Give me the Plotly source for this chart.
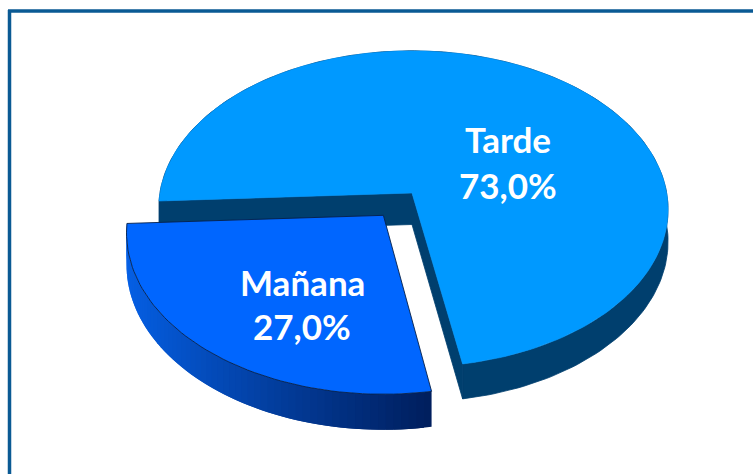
import numpy as np
import plotly.graph_objects as go

categories = ["Tarde", "Mañana"]
values = [73.0, 27.0]
top_colors = ["#0099FF", "#0066FF"]
start_angle = -90.0          # first slice, degrees clockwise from the back
explode_dir_amount = 0.18

# projection of the unit pie disc on to the page
AX, AY = 412.0, 193.0
A, B, D, E, P = 253.0, 156.2, -14.0, -8.0, 0.10
DEPTH = 31.5


def project(X, Y):
    w = 1 + P * Y
    return AX + (A * X + D * Y) / w, AY + (E * X - B * Y) / w, 1 / w


def rim(t0, t1, n=120):
    t = np.radians(np.linspace(t0, t1, n))
    return np.sin(t), np.cos(t)


def hex_mix(c0, c1, f):
    a = np.array([int(c0[i:i + 2], 16) for i in (1, 3, 5)])
    b = np.array([int(c1[i:i + 2], 16) for i in (1, 3, 5)])
    r = (a + (b - a) * f).round().astype(int)
    return f"rgb({r[0]},{r[1]},{r[2]})"


def poly(fig, x, y, fill, line=None, lw=0.8):
    fig.add_trace(go.Scatter(
        x=list(x), y=list(y), mode="lines", fill="toself", fillcolor=fill,
        line=dict(color=line or fill, width=lw), hoverinfo="skip", showlegend=False))


fig = go.Figure()

# angular spans from the values
total = sum(values)
sweep = [v / total * 360 for v in values]
t0 = [start_angle, start_angle + sweep[0]]
t1 = [start_angle + sweep[0], start_angle + sweep[0] + sweep[1]]

# ---- Tarde (in place)
X, Y = rim(t0[0], t1[0], 200)
sx, sy, sc = project(X, Y)
ax, ay, ac = project(0.0, 0.0)
wall = "#003F6E"
poly(fig, [*sx, *sx[::-1]], [*sy, *(sy + DEPTH * sc)[::-1]], wall)
for j in (0, -1):
    poly(fig, [ax, sx[j], sx[j], ax],
         [ay, sy[j], sy[j] + DEPTH * sc[j], ay + DEPTH * ac], wall)
poly(fig, [ax, *sx, ax], [ay, *sy, ay], top_colors[0], lw=0.6)

# ---- Mañana (pulled out along its mid angle)
mid = np.radians((t0[1] + t1[1]) / 2)
ox, oy = explode_dir_amount * np.sin(mid), explode_dir_amount * np.cos(mid)
X, Y = rim(t0[1], t1[1], 64)
sx, sy, sc = project(X + ox, Y + oy)
ax, ay, ac = project(ox, oy)
xmin, xmax = sx.min(), sx.max()
for i in range(len(X) - 1):
    k = min(i + 2, len(X) - 1)
    f = ((sx[i] - xmin) / (xmax - xmin)) ** 0.9
    xs = [sx[i], *sx[i + 1:k + 1]]
    ys = [sy[i], *sy[i + 1:k + 1]]
    xb = [sx[i], *sx[i + 1:k + 1]]
    yb = [sy[i] + DEPTH * sc[i], *(sy[i + 1:k + 1] + DEPTH * sc[i + 1:k + 1])]
    poly(fig, [*xs, *xb[::-1]], [*ys, *yb[::-1]], hex_mix("#0560E6", "#001F5E", f), lw=0)
poly(fig, [ax, *sx, ax], [ay, *sy, ay], top_colors[1], line="#06204A", lw=0.9)

# ---- frame: only the top and left rules reach the page
fig.add_shape(type="line", x0=9.5, x1=9.5, y0=10, y1=474, line=dict(color="#0A5A94", width=3.5))
fig.add_shape(type="line", x0=8, x1=753, y0=11, y1=11, line=dict(color="#0A5A94", width=3.5))

# ---- labels
label_xy = [(508, 139, 185), (302, 282, 326)]
for name, v, (lx, y1, y2) in zip(categories, values, label_xy):
    pct = f"{v:.1f}".replace(".", ",") + "%"
    for txt, yy in ((name, y1), (pct, y2)):
        fig.add_annotation(x=lx, y=yy, text=f"<b>{txt}</b>", showarrow=False,
                           font=dict(family="Lato", size=35, color="white"),
                           xanchor="center", yanchor="middle")

fig.update_layout(
    width=753, height=474, margin=dict(l=0, r=0, t=0, b=0),
    paper_bgcolor="white", plot_bgcolor="white", showlegend=False,
    xaxis=dict(range=[0, 753], visible=False, fixedrange=True),
    yaxis=dict(range=[474, 0], visible=False, fixedrange=True),
)
fig.write_html("out.html", config=dict(displayModeBar=False),
               post_script="document.body.style.margin='0';document.body.style.overflow='hidden';")
